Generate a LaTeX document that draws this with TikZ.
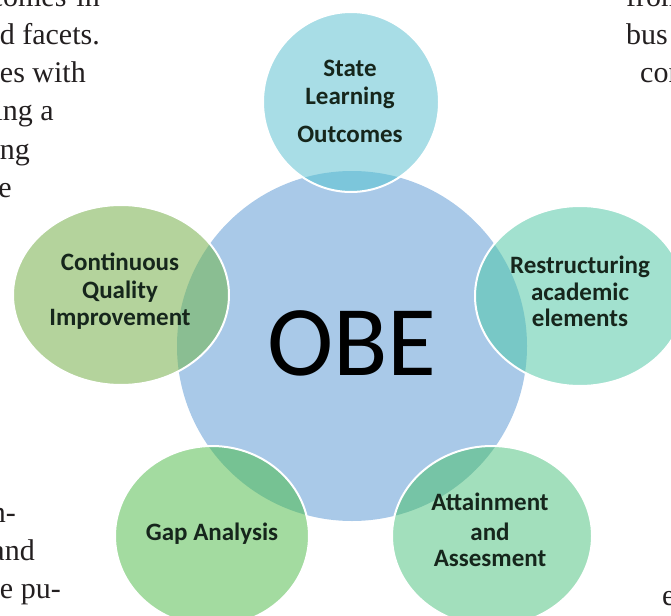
\documentclass[tikz,border=0pt]{standalone}
\usepackage{fontspec}
\setmainfont{Liberation Serif}
\newfontfamily\labelfont{Carlito}
\definecolor{obeblue}{HTML}{A9C9E8}
\definecolor{slofill}{HTML}{A8DDE6}
\definecolor{slolap}{HTML}{7CC6DB}
\definecolor{cqifill}{HTML}{B4D39C}
\definecolor{cqilap}{HTML}{8ABE92}
\definecolor{raefill}{HTML}{A2E1CF}
\definecolor{raelap}{HTML}{78C8C6}
\definecolor{gapfill}{HTML}{A3DBA0}
\definecolor{gaplap}{HTML}{76C293}
\definecolor{aasfill}{HTML}{A2DFBC}
\definecolor{aaslap}{HTML}{76C4A6}
\definecolor{labeltext}{HTML}{16261C}
\definecolor{pagetext}{HTML}{231F20}
\newcommand\obepetal[6]{%
  \fill[#5] (#1,#2) ellipse [x radius=#3pt, y radius=#4pt];
  \begin{scope}
    \clip (352,346) circle [radius=175pt];
    \fill[#6] (#1,#2) ellipse [x radius=#3pt, y radius=#4pt];
  \end{scope}
  \draw[white, line width=2pt] (#1,#2) ellipse [x radius=#3pt, y radius=#4pt];
}
\begin{document}
\begin{tikzpicture}[x=1pt,y=-1pt,
  lbl/.style={font=\labelfont\bfseries\fontsize{25}{28}\selectfont, text=labeltext, inner sep=0pt, anchor=base},
  bg/.style={font=\fontsize{30}{36}\selectfont, text=pagetext, inner sep=0pt},
  bgr/.style={bg, anchor=base east},
  bgl/.style={bg, anchor=base west}]
\useasboundingbox (0,0) rectangle (671,615);
\clip (0,0) rectangle (671,615);
% page text fragments behind the figure
\node[bgr] (t1) at (100,7) {comes\hspace{10pt}in};
\node[bgr] (t2) at (100,45) {and facets.};
\node[bgr] (t3) at (86,83) {ries with};
\node[bgr] (t4) at (54,121) {ing a};
\node[bgr] (t5) at (30,159) {ing};
\node[bgr] (t6) at (12,197) {e};
\node[bgr] (t7) at (16,522) {n-};
\node[bgr] (t8) at (35,560) {and};
\node[bgr] (t9) at (61,598) {e pu-};
\node[bgl] (r1) at (626,7) {from};
\node[bgl] (r2) at (626,45) {bus};
\node[bgl] (r3) at (640,83) {con};
\node[bgl] (r4) at (662,605) {e};
% central circle
\fill[obeblue] (352,346) circle [radius=175pt];
% outer circles
\obepetal{351}{102}{88}{90}{slofill}{slolap}
\obepetal{121}{295}{108}{90}{cqifill}{cqilap}
\obepetal{580}{296}{105}{90}{raefill}{raelap}
\obepetal{212}{536}{97}{90}{gapfill}{gaplap}
\obepetal{492}{536}{100}{90}{aasfill}{aaslap}
% labels
\node[font=\labelfont\fontsize{100}{100}\selectfont, inner sep=0pt, anchor=base, text=black] (obe) at (352,375) {OBE};
\node[lbl] (slo1) at (350,77) {State};
\node[lbl] (slo2) at (350,105) {Learning};
\node[lbl] (slo3) at (350,142) {Outcomes};
\node[lbl] (cqi1) at (120,270) {Continuous};
\node[lbl] (cqi2) at (120,298) {Quality};
\node[lbl] (cqi3) at (120,325) {Improvement};
\node[lbl] (rae1) at (580,273) {Restructuring};
\node[lbl] (rae2) at (580,300) {academic};
\node[lbl] (rae3) at (580,326) {elements};
\node[lbl] (gap1) at (212,540) {Gap Analysis};
\node[lbl] (aas1) at (490,510) {Attainment};
\node[lbl] (aas2) at (490,540) {and};
\node[lbl] (aas3) at (490,566) {Assesment};
\end{tikzpicture}
\end{document}
